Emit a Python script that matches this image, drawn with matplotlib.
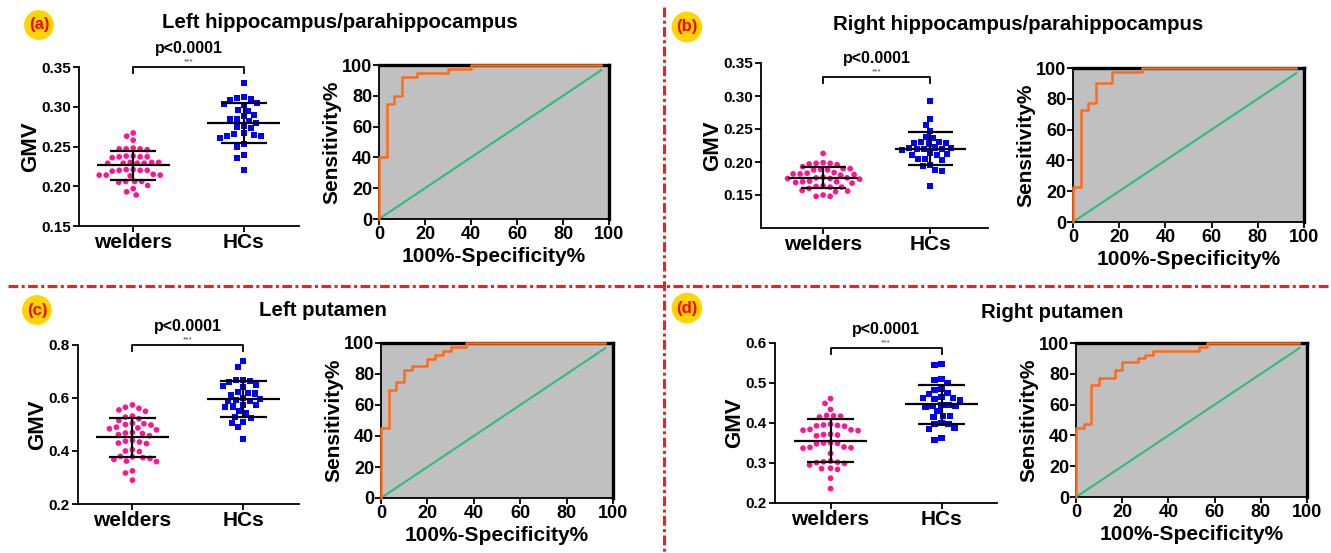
"""Gray matter volume of welders vs HCs, with ROC curves, four brain regions."""

# ---------------------------------------------------------------------------
# Section 1: Imports
# ---------------------------------------------------------------------------
import matplotlib

matplotlib.use("Agg")

import matplotlib.pyplot as plt  # noqa: E402
import numpy as np  # noqa: E402
from matplotlib import transforms  # noqa: E402
from matplotlib.lines import Line2D  # noqa: E402
from matplotlib.ticker import FormatStrFormatter, MultipleLocator  # noqa: E402

plt.rcParams["font.family"] = ["Liberation Sans", "DejaVu Sans"]
plt.rcParams["font.weight"] = "bold"
plt.rcParams["axes.labelweight"] = "bold"

# ---------------------------------------------------------------------------
# Section 2: Data
# ---------------------------------------------------------------------------
GROUP_LABELS = ["welders", "HCs"]
PANEL_TITLES = [
    "Left hippocampus/parahippocampus",
    "Right hippocampus/parahippocampus",
    "Left putamen",
    "Right putamen",
]
PANEL_TAGS = ["(a)", "(b)", "(c)", "(d)"]
P_TEXT = "p<0.0001"
STARS = "***"

L_HIPPO_WELDERS = [
    0.267, 0.263, 0.258, 0.248, 0.247, 0.247, 0.246, 0.247, 0.238, 0.237,
    0.237, 0.236, 0.237, 0.238, 0.230, 0.229, 0.229, 0.230, 0.229, 0.230,
    0.229, 0.221, 0.220, 0.220, 0.221, 0.220, 0.219, 0.215, 0.214, 0.214,
    0.213, 0.214, 0.206, 0.206, 0.205, 0.206, 0.201, 0.197, 0.193, 0.189,
]
L_HIPPO_HCS = [
    0.330, 0.312, 0.311, 0.310, 0.309, 0.305, 0.304, 0.302, 0.296, 0.295,
    0.290, 0.288, 0.285, 0.284, 0.282, 0.280, 0.276, 0.274, 0.273, 0.267,
    0.266, 0.265, 0.263, 0.263, 0.261, 0.253, 0.250, 0.239, 0.236, 0.220,
]
R_HIPPO_WELDERS = [
    0.213, 0.199, 0.198, 0.198, 0.197, 0.196, 0.193, 0.190, 0.190, 0.189,
    0.188, 0.188, 0.184, 0.183, 0.182, 0.181, 0.182, 0.180, 0.177, 0.176,
    0.175, 0.176, 0.174, 0.175, 0.171, 0.170, 0.170, 0.169, 0.168, 0.164,
    0.163, 0.162, 0.162, 0.160, 0.157, 0.156, 0.155, 0.150, 0.148, 0.148,
]
R_HIPPO_HCS = [
    0.293, 0.265, 0.256, 0.247, 0.238, 0.237, 0.231, 0.230, 0.229, 0.229,
    0.228, 0.222, 0.221, 0.221, 0.220, 0.220, 0.219, 0.218, 0.213, 0.212,
    0.211, 0.211, 0.205, 0.204, 0.203, 0.196, 0.194, 0.188, 0.187, 0.164,
]
L_PUT_WELDERS = [
    0.574, 0.565, 0.561, 0.555, 0.550, 0.532, 0.528, 0.522, 0.515, 0.505,
    0.503, 0.500, 0.498, 0.490, 0.487, 0.484, 0.480, 0.470, 0.468, 0.466,
    0.462, 0.458, 0.440, 0.437, 0.434, 0.430, 0.428, 0.405, 0.400, 0.398,
    0.380, 0.378, 0.375, 0.372, 0.368, 0.362, 0.360, 0.325, 0.317, 0.290,
]
L_PUT_HCS = [
    0.738, 0.718, 0.668, 0.667, 0.664, 0.660, 0.648, 0.645, 0.640, 0.622,
    0.620, 0.617, 0.613, 0.600, 0.597, 0.592, 0.590, 0.588, 0.575, 0.572,
    0.568, 0.565, 0.550, 0.545, 0.528, 0.525, 0.510, 0.505, 0.490, 0.447,
]
R_PUT_WELDERS = [
    0.461, 0.449, 0.434, 0.419, 0.418, 0.417, 0.415, 0.397, 0.395, 0.394,
    0.393, 0.392, 0.384, 0.383, 0.382, 0.381, 0.372, 0.371, 0.370, 0.368,
    0.351, 0.350, 0.349, 0.348, 0.340, 0.339, 0.338, 0.337, 0.324, 0.305,
    0.303, 0.302, 0.301, 0.299, 0.295, 0.287, 0.286, 0.284, 0.262, 0.236,
]
R_PUT_HCS = [
    0.548, 0.545, 0.510, 0.507, 0.500, 0.485, 0.483, 0.475, 0.472, 0.465,
    0.463, 0.462, 0.460, 0.458, 0.445, 0.444, 0.443, 0.442, 0.440, 0.430,
    0.418, 0.417, 0.415, 0.400, 0.398, 0.397, 0.388, 0.386, 0.362, 0.357,
]

# ROC step corners: 100%-Specificity% and Sensitivity%
L_HIPPO_FPR = [0, 0, 3.33, 6.67, 10, 16.67, 30, 40, 96.67]
L_HIPPO_TPR = [0, 40, 75, 80, 92.5, 95, 97.5, 100, 100]
R_HIPPO_FPR = [0, 0, 3.33, 6.67, 10, 16.67, 30, 96.67]
R_HIPPO_TPR = [0, 22.5, 72.5, 77.5, 90, 97.5, 100, 100]
L_PUT_FPR = [0, 0, 3.33, 6.67, 10, 13.33, 20, 23.33, 26.67, 30, 36.67, 96.67]
L_PUT_TPR = [0, 45, 70, 75, 82.5, 85, 90, 92.5, 95, 97.5, 100, 100]
R_PUT_FPR = [0, 0, 3.33, 6.67, 10, 16.67, 20, 26.67, 30, 33.33, 53.33, 56.67, 96.67]
R_PUT_TPR = [0, 45, 47.5, 72.5, 77.5, 82.5, 87.5, 90, 92.5, 95, 97.5, 100, 100]

# ---------------------------------------------------------------------------
# Section 3: Layout and style (pixel boxes: left, top, right, bottom)
# ---------------------------------------------------------------------------
FIG_W, FIG_H, DPI = 1331, 553, 100

PINK = "#FF1493"
BLUE = "#0000FF"
ORANGE = "#FF6A1A"
GREEN = "#2DBE78"
ROC_BG = "#C0C0C0"
TAG_FILL = "#FFD400"
DIVIDER = "#FF1A1A"

PANELS = [
    dict(scatter_box=(79, 67, 299, 226), roc_box=(379, 65, 609, 219),
         ylim=(0.15, 0.35), yticks=(0.15, 0.35, 0.05), fmt="%.2f",
         xlim=(-0.49, 1.5), bracket=1.0,
         title_xy=(340, 23), tag_xy=(39, 25)),
    dict(scatter_box=(761, 63, 988, 228), roc_box=(1073, 68, 1304, 222),
         ylim=(0.10, 0.35), yticks=(0.15, 0.35, 0.05), fmt="%.2f",
         xlim=(-0.58, 1.54), bracket=0.916,
         title_xy=(1018, 25), tag_xy=(687, 27)),
    dict(scatter_box=(78, 345, 299, 504), roc_box=(381, 343, 613, 498),
         ylim=(0.2, 0.8), yticks=(0.2, 0.8, 0.2), fmt="%.1f",
         xlim=(-0.49, 1.5), bracket=1.0,
         title_xy=(323, 310), tag_xy=(37, 310)),
    dict(scatter_box=(775, 343, 997, 503), roc_box=(1076, 343, 1307, 497),
         ylim=(0.2, 0.6), yticks=(0.2, 0.6, 0.1), fmt="%.1f",
         xlim=(-0.5, 1.5), bracket=0.969,
         title_xy=(1052, 312), tag_xy=(687, 308)),
]


def px_box(box):
    left, top, right, bottom = box
    return [left / FIG_W, 1 - bottom / FIG_H,
            (right - left) / FIG_W, (bottom - top) / FIG_H]


# ---------------------------------------------------------------------------
# Section 4: Plotting helpers
# ---------------------------------------------------------------------------
def swarm_x(ax, center, values, spacing):
    """Greedy beeswarm in pixel space, returns data x for every value."""
    pts = ax.transData.transform(
        np.column_stack([np.full(len(values), center), values]))
    ys = pts[:, 1]
    candidates = sorted([k * 0.5 for k in range(-120, 121)],
                        key=lambda v: (abs(v), v))
    placed = []
    xs = np.zeros(len(values))
    for i in np.argsort(-ys):
        for dx in candidates:
            if all((dx - px) ** 2 + (ys[i] - py) ** 2 >= spacing ** 2
                   for px, py in placed):
                break
        placed.append((dx, ys[i]))
        xs[i] = pts[i, 0] + dx
    return ax.transData.inverted().transform(np.column_stack([xs, ys]))[:, 0]


def draw_scatter(ax, cfg, welders, hcs):
    ax.set_xlim(*cfg["xlim"])
    ax.set_ylim(*cfg["ylim"])
    groups = [(welders, PINK, "o", 17), (hcs, BLUE, "s", 19)]
    for pos, (vals, color, marker, size) in enumerate(groups):
        vals = np.asarray(vals)
        xs = swarm_x(ax, pos, vals, 7.0)
        ax.scatter(xs, vals, s=size, marker=marker, color=color,
                   edgecolors="none", zorder=3)
        mean, sd = vals.mean(), vals.std(ddof=1)
        ax.hlines(mean, pos - 0.33, pos + 0.33, color="black", lw=1.6, zorder=4)
        ax.hlines([mean - sd, mean + sd], pos - 0.21, pos + 0.21,
                  color="black", lw=1.6, zorder=4)
        ax.vlines(pos, mean - sd, mean + sd, color="black", lw=1.6, zorder=4)

    lo, hi, step = cfg["yticks"]
    ax.set_yticks(np.arange(lo, hi + step / 2, step))
    ax.yaxis.set_major_formatter(FormatStrFormatter(cfg["fmt"]))
    ax.set_xticks([0, 1])
    ax.set_xticklabels(GROUP_LABELS)
    for side in ("top", "right"):
        ax.spines[side].set_visible(False)
    for side in ("left", "bottom"):
        ax.spines[side].set_linewidth(1.3)
    ax.tick_params(axis="y", length=4, width=1.3, labelsize=11, pad=2)
    ax.tick_params(axis="x", length=4, width=1.3, labelsize=15, pad=1)
    ax.set_ylabel("GMV", fontsize=16, labelpad=0)

    # significance bracket above the two groups
    trans = transforms.blended_transform_factory(ax.transData, ax.transAxes)
    yb = cfg["bracket"]
    drop = 6 / ax.bbox.height
    ax.plot([0, 0, 1, 1], [yb - drop, yb, yb, yb - drop], color="black",
            lw=1.3, transform=trans, clip_on=False)
    ax.annotate(STARS, xy=(0.5, yb), xycoords=trans, xytext=(0, 3.5),
                textcoords="offset points", ha="center", va="center",
                fontsize=6, color="#444444", fontweight="normal")
    ax.annotate(P_TEXT, xy=(0.5, yb), xycoords=trans, xytext=(0, 13.5),
                textcoords="offset points", ha="center", va="center",
                fontsize=11.5)


def draw_roc(ax, fpr, tpr):
    ax.set_facecolor(ROC_BG)
    ax.step(fpr, tpr, where="post", color=ORANGE, lw=1.8, zorder=3,
            clip_on=False)
    ax.plot([0, fpr[-1]], [0, fpr[-1]], color=GREEN, lw=1.5, zorder=2)
    ax.set_xlim(0, 100)
    ax.set_ylim(0, 100)
    ax.xaxis.set_major_locator(MultipleLocator(20))
    ax.yaxis.set_major_locator(MultipleLocator(20))
    for side in ("left", "bottom"):
        ax.spines[side].set_linewidth(1.3)
    for side in ("top", "right"):
        ax.spines[side].set_linewidth(2.4)
    ax.tick_params(length=4, width=1.3, labelsize=13, pad=1)
    ax.set_xlabel("100%-Specificity%", fontsize=15, labelpad=3)
    ax.set_ylabel("Sensitivity%", fontsize=15, labelpad=0)


# ---------------------------------------------------------------------------
# Section 5: Main
# ---------------------------------------------------------------------------
def main():
    fig = plt.figure(figsize=(FIG_W / DPI, FIG_H / DPI), dpi=DPI)

    scatter_data = [
        (L_HIPPO_WELDERS, L_HIPPO_HCS),
        (R_HIPPO_WELDERS, R_HIPPO_HCS),
        (L_PUT_WELDERS, L_PUT_HCS),
        (R_PUT_WELDERS, R_PUT_HCS),
    ]
    roc_data = [
        (L_HIPPO_FPR, L_HIPPO_TPR),
        (R_HIPPO_FPR, R_HIPPO_TPR),
        (L_PUT_FPR, L_PUT_TPR),
        (R_PUT_FPR, R_PUT_TPR),
    ]

    for cfg, (welders, hcs), (fpr, tpr), title, tag in zip(
            PANELS, scatter_data, roc_data, PANEL_TITLES, PANEL_TAGS):
        ax_s = fig.add_axes(px_box(cfg["scatter_box"]))
        draw_scatter(ax_s, cfg, welders, hcs)
        ax_r = fig.add_axes(px_box(cfg["roc_box"]))
        draw_roc(ax_r, fpr, tpr)

        tx, ty = cfg["title_xy"]
        fig.text(tx / FIG_W, 1 - ty / FIG_H, title, ha="center", va="center",
                 fontsize=14.7)
        gx, gy = cfg["tag_xy"]
        fig.text(gx / FIG_W, 1 - gy / FIG_H, tag, ha="center", va="center",
                 fontsize=12, color="red",
                 bbox=dict(boxstyle="circle,pad=0.28", fc=TAG_FILL, ec="none"))

    # red dash-dot dividers between the four panels
    dash = (0, (3.2, 1.1, 1.0, 1.1))
    fig.add_artist(Line2D([8 / FIG_W, 1], [1 - 286 / FIG_H] * 2, color=DIVIDER,
                          lw=2.2, linestyle=dash, transform=fig.transFigure))
    fig.add_artist(Line2D([664 / FIG_W] * 2, [1 - 7 / FIG_H, 0], color=DIVIDER,
                          lw=2.2, linestyle=dash, transform=fig.transFigure))

    fig.savefig("out.png", dpi=DPI)
    plt.close(fig)


if __name__ == "__main__":
    main()
